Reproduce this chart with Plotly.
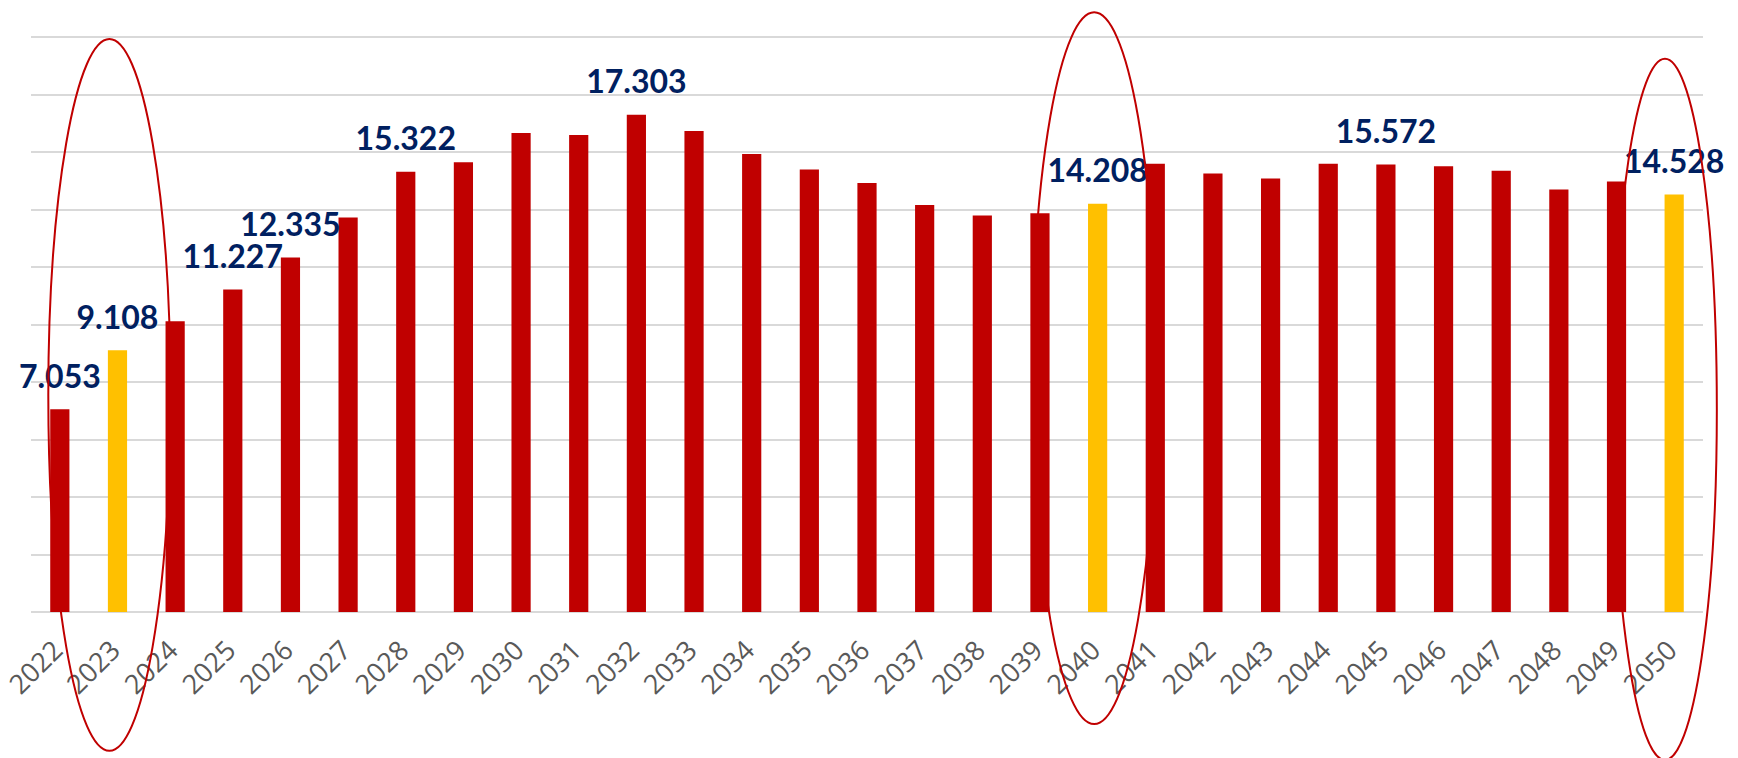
import plotly.graph_objects as go

# ---- data ----
years = [str(y) for y in range(2022, 2051)]
values = [7.053, 9.108, 10.12, 11.227, 12.335, 13.73, 15.322, 15.65, 16.67, 16.60,
          17.303, 16.74, 15.94, 15.40, 14.93, 14.16, 13.80, 13.88, 14.208, 15.60,
          15.26, 15.09, 15.60, 15.572, 15.51, 15.36, 14.70, 14.98, 14.528]
labeled_years = ["2022", "2023", "2025", "2026", "2028", "2032", "2040", "2045", "2050"]
highlight_years = ["2023", "2040", "2050"]

# ---- styles ----
RED = "#C00000"
YELLOW = "#FFC000"
NAVY = "#002060"
GRID = "#D9D9D9"
Y_TOP = 20.08

colors = [YELLOW if y in highlight_years else RED for y in years]

fig = go.Figure()
fig.add_trace(go.Bar(x=years, y=values, marker=dict(color=colors, line=dict(width=0)),
                     hoverinfo="x+y"))

# data labels
lab_x = [y for y in years if y in labeled_years]
lab_v = [v for y, v in zip(years, values) if y in labeled_years]
fig.add_trace(go.Scatter(
    x=lab_x, y=lab_v, mode="markers+text", text=[f"{v:.3f}" for v in lab_v],
    textposition="top center", cliponaxis=False, hoverinfo="skip",
    marker=dict(size=20, color="rgba(0,0,0,0)"),
    textfont=dict(family="Lato", size=32, color=NAVY, weight="bold")))

# highlight ellipses (geometry relative to highlighted categories)
ellipse_geom = {
    "2023": dict(dx=-0.14, hw=1.06, top=19.94, bottom=-4.83),
    "2040": dict(dx=-0.06, hw=1.075, top=20.87, bottom=-3.90),
    "2050": dict(dx=-0.16, hw=0.90, top=19.25, bottom=-5.15),
}
n = len(years)
for y in highlight_years:
    g = ellipse_geom[y]
    c = years.index(y) + 0.5 + g["dx"]
    fig.add_shape(type="circle", xref="paper", yref="paper",
                  x0=(c - g["hw"]) / n, x1=(c + g["hw"]) / n,
                  y0=g["bottom"] / Y_TOP, y1=g["top"] / Y_TOP,
                  line=dict(color=RED, width=2), fillcolor="rgba(0,0,0,0)", layer="above")

fig.update_layout(
    width=1738, height=758,
    margin=dict(l=31, r=35, t=35, b=146, autoexpand=False),
    paper_bgcolor="white", plot_bgcolor="white",
    bargap=0.667, showlegend=False,
    xaxis=dict(type="category", tickangle=-45, showgrid=False, showline=False,
               automargin=False,
               tickfont=dict(family="Open Sans", size=27, color="#595959"),
               ticks="", ticklabelstandoff=16, ticklabelshift=-5,
               range=[-0.5, n - 0.5]),
    yaxis=dict(range=[0, Y_TOP], tick0=0, dtick=2, showticklabels=False, showgrid=True,
               automargin=False,
               gridcolor=GRID, gridwidth=1.5, zeroline=True, zerolinecolor=GRID,
               zerolinewidth=1.5, showline=False),
)

fig.write_html("out.html", config={"displayModeBar": False},
               post_script="document.body.style.margin='0';")
